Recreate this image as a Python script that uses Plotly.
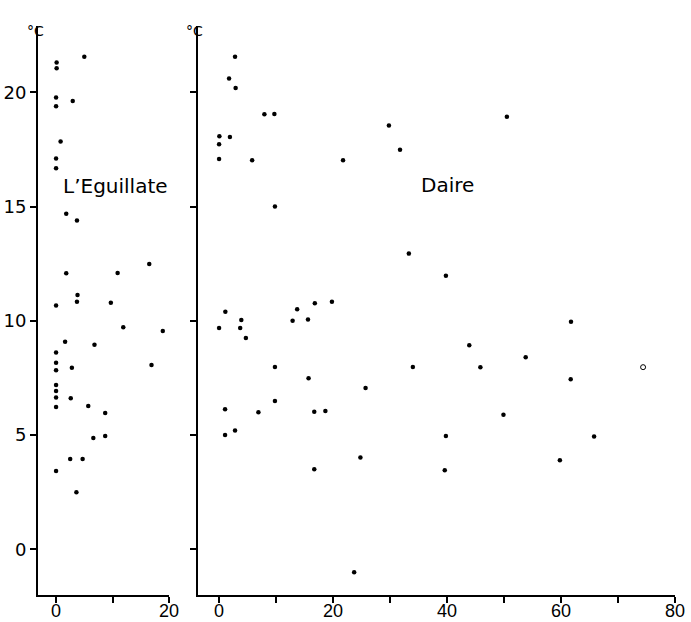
import plotly.graph_objects as go

# L'Eguillate panel (x: 0-20, y: temperature °C)
egu_x = [0.1, 0.1, 5.0, 0.0, 0.0, 2.95, 0.8, 0.0, 0.0, 1.8, 3.7, 16.5, 1.8, 10.9, 3.8, 3.7, 0.0, 9.7,
         11.9, 18.9, 1.6, 6.8, 0.0, 0.0, 0.0, 2.8, 16.9, 0.0, 0.0, 0.0, 2.6, 0.0, 5.7, 8.7, 6.6, 8.7,
         2.5, 4.7, 0.0, 3.6]
egu_y = [21.3, 21.05, 21.55, 19.77, 19.39, 19.62, 17.85, 17.1, 16.68, 14.68, 14.39, 12.49, 12.08, 12.09,
         11.13, 10.83, 10.67, 10.79, 9.72, 9.55, 9.08, 8.95, 8.61, 8.16, 7.84, 7.95, 8.07, 7.19, 6.93,
         6.64, 6.61, 6.23, 6.27, 5.96, 4.87, 4.96, 3.95, 3.95, 3.43, 2.5]

# Daire panel (x: 0-80)
dai_x = [2.8, 1.75, 2.9, 7.95, 9.7, 0.05, 1.9, 0.0, 0.0, 5.8, 21.75, 29.8, 31.75, 9.8, 33.3, 19.8, 16.8,
         13.7, 1.1, 50.5, 39.8, 0.0, 3.9, 3.7, 4.7, 12.9, 15.6, 9.8, 15.7, 25.7, 34.0, 9.8, 1.05, 6.9,
         16.7, 18.65, 1.05, 2.8, 24.8, 16.7, 23.7, 61.75, 43.9, 53.8, 45.85, 61.7, 49.9, 39.8, 65.8,
         59.8, 39.6]
dai_y = [21.55, 20.6, 20.19, 19.04, 19.05, 18.07, 18.04, 17.73, 17.08, 17.03, 17.02, 18.55, 17.49, 15.0,
         12.94, 10.83, 10.77, 10.51, 10.39, 18.93, 11.97, 9.68, 10.03, 9.68, 9.25, 10.0, 10.06, 7.98,
         7.48, 7.06, 7.98, 6.49, 6.13, 6.0, 6.02, 6.05, 5.0, 5.2, 4.02, 3.5, -1.0, 9.96, 8.93, 8.4,
         7.97, 7.44, 5.89, 4.96, 4.94, 3.9, 3.46]
dai_open_x = [74.4]
dai_open_y = [7.97]

y_ticks = [0, 5, 10, 15, 20]
egu_xticks = [0, 10, 20]
egu_xlabels = ["0", "", "20"]
dai_xticks = [0, 10, 20, 30, 40, 50, 60, 70, 80]
dai_xlabels = ["0", "", "20", "", "40", "", "60", "", "80"]

FONT = "DejaVu Sans"
XFONT = "Liberation Sans"
fig = go.Figure()
fig.add_trace(go.Scatter(x=egu_x, y=egu_y, mode="markers", xaxis="x", yaxis="y",
                         marker=dict(color="black", size=4.5), showlegend=False))
fig.add_trace(go.Scatter(x=dai_x, y=dai_y, mode="markers", xaxis="x2", yaxis="y2",
                         marker=dict(color="black", size=4.5), showlegend=False))
fig.add_trace(go.Scatter(x=dai_open_x, y=dai_open_y, mode="markers", xaxis="x2", yaxis="y2",
                         marker=dict(color="black", size=5, symbol="circle-open"), showlegend=False))

yr = [-2.0, 22.9]
base = dict(showgrid=False, zeroline=False, showline=True, linecolor="black", linewidth=2,
            ticks="outside", ticklen=6, tickcolor="black", tickwidth=1.5, automargin=False)
xfont = dict(family=XFONT, size=18, color="black")
yfont = dict(family=FONT, size=18, color="black")
xextra = dict(ticklabelstandoff=-8)
fig.update_layout(
    width=691, height=622, margin=dict(l=0, r=0, t=0, b=0, autoexpand=False),
    paper_bgcolor="white", plot_bgcolor="white",
    xaxis=dict(domain=[38/691, 169/691], range=[-3.2, 20], anchor="y", tickfont=xfont,
               tickmode="array", tickvals=egu_xticks, ticktext=egu_xlabels, **base, **xextra),
    yaxis=dict(domain=[1-595/622, 1-26/622], range=yr, anchor="x", tickfont=yfont,
               tickmode="array", tickvals=y_ticks, ticktext=[str(v) for v in y_ticks], **base),
    xaxis2=dict(domain=[198/691, 675/691], range=[-3.7, 80], anchor="y2", tickfont=xfont,
                tickmode="array", tickvals=dai_xticks, ticktext=dai_xlabels, **base, **xextra),
    yaxis2=dict(domain=[1-595/622, 1-26/622], range=yr, anchor="x2", tickfont=yfont,
                tickmode="array", tickvals=y_ticks, showticklabels=False, **base),
    annotations=[
        dict(text="L\u2019Eguillate", x=10.6, y=15.9, xref="x", yref="y", showarrow=False,
             font=dict(family=FONT, size=20, color="black")),
        dict(text="Daire", x=40.1, y=15.95, xref="x2", yref="y2", showarrow=False,
             font=dict(family=FONT, size=20, color="black")),
        dict(text="°C", x=25/691, y=1-21/622, xref="paper", yref="paper", showarrow=False,
             font=dict(family=FONT, size=14, color="black")),
        dict(text="°C", x=184/691, y=1-21/622, xref="paper", yref="paper", showarrow=False,
             font=dict(family=FONT, size=14, color="black")),
    ],
)
fig.write_html("out.html")
